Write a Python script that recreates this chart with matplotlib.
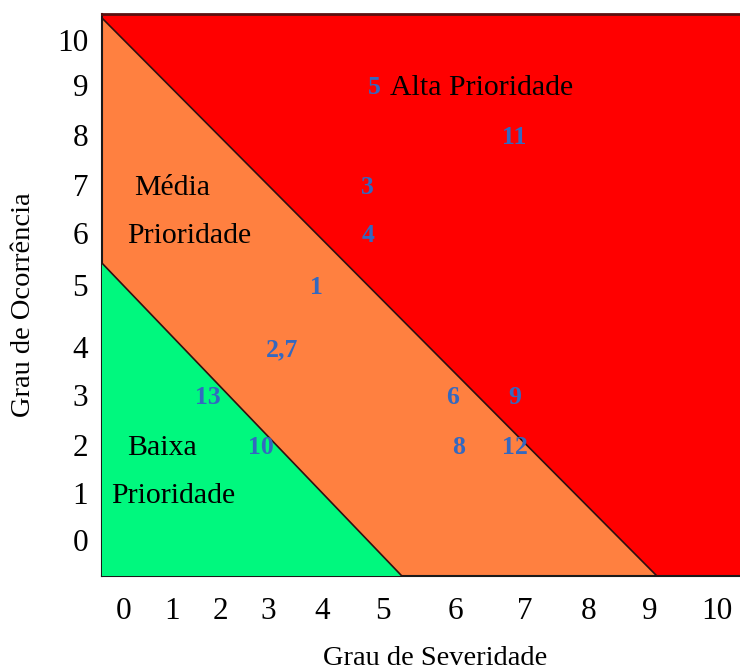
import numpy as np
import matplotlib.pyplot as plt

# priority matrix: severity (x) vs occurrence (y)
grades = list(range(11))
# where each grade label sits on the original (uneven) grid, in pixels
x_grade_px = [123, 172, 220, 268, 322, 383, 455, 525, 588, 650, 717]
y_grade_px = [540, 493, 445, 395, 347, 285, 233, 185, 135, 85, 40]

# failure modes: label, severity, occurrence
mode_labels = ["5", "11", "3", "4", "1", "2,7", "13", "10", "6", "9", "8", "12"]
mode_sev = [4.85, 6.85, 4.75, 4.75, 3.9, 3.25, 1.75, 2.85, 5.97, 6.85, 6.05, 6.85]
mode_occ = [9.0, 8.0, 7.0, 6.0, 5.0, 4.0, 3.0, 2.0, 3.0, 3.0, 2.0, 2.0]

# region boundaries (severity, occurrence) end points
x_lim = (-0.43, 10.34)
y_lim = (-0.77, 10.58)
upper_line = [(-0.43, 10.49), (9.1, -0.77)]
lower_line = [(-0.43, 5.42), (5.26, -0.77)]


def make_scale(px, sign):
    px = np.asarray(px, dtype=float) * sign
    g = np.arange(len(px), dtype=float)

    def fwd(v):
        v = np.asarray(v, dtype=float)
        out = np.interp(v, g, px)
        lo = v < 0
        hi = v > g[-1]
        out = np.where(lo, px[0] + (v - 0) * (px[1] - px[0]), out)
        out = np.where(hi, px[-1] + (v - g[-1]) * (px[-1] - px[-2]), out)
        return out

    def inv(p):
        p = np.asarray(p, dtype=float)
        out = np.interp(p, px, g)
        lo = p < px[0]
        hi = p > px[-1]
        out = np.where(lo, (p - px[0]) / (px[1] - px[0]), out)
        out = np.where(hi, g[-1] + (p - px[-1]) / (px[-1] - px[-2]), out)
        return out

    return fwd, inv


plt.rcParams['font.family'] = ['Liberation Serif', 'DejaVu Serif']

fig = plt.figure(figsize=(7.4, 6.7), dpi=100)
ax = fig.add_axes([102 / 740, 1 - 576 / 670, 1 - 102 / 740, (576 - 14) / 670])
ax.set_xscale('function', functions=make_scale(x_grade_px, 1))
ax.set_yscale('function', functions=make_scale(y_grade_px, -1))
ax.set_xlim(*x_lim)
ax.set_ylim(*y_lim)

x0, x1 = x_lim
y0, y1 = y_lim
# red: whole area, orange below upper line, green below lower line
ax.fill([x0, x1, x1, x0], [y0, y0, y1, y1], color='#ff0000', lw=0, zorder=1)
ax.fill([upper_line[0][0], upper_line[1][0], x0],
        [upper_line[0][1], upper_line[1][1], y0], color='#ff8040', lw=0, zorder=2)
ax.fill([lower_line[0][0], lower_line[1][0], x0],
        [lower_line[0][1], lower_line[1][1], y0], color='#00f87e', lw=0, zorder=3)
for line in (upper_line, lower_line):
    ax.plot([line[0][0], line[1][0]], [line[0][1], line[1][1]],
            color='#301010', lw=1.2, zorder=4)

for lab, sx, oy in zip(mode_labels, mode_sev, mode_occ):
    ax.text(sx, oy, lab, color='#3468c0', fontsize=18.5, fontweight='bold',
            ha='center', va='center_baseline', zorder=5)

kw = dict(fontsize=21.5, va='center_baseline', zorder=5)
ax.text(5.1, 9.0, "Alta Prioridade", ha='left', **kw)
ax.text(1.0, 7.0, "Média", ha='center', **kw)
ax.text(1.35, 6.0, "Prioridade", ha='center', **kw)
ax.text(0.8, 2.0, "Baixa", ha='center', **kw)
ax.text(1.02, 1.0, "Prioridade", ha='center', **kw)

ax.set_xticks(grades)
ax.set_yticks(grades)
ax.set_xticklabels([str(g) for g in grades])
ax.set_yticklabels([str(g) for g in grades])
ax.tick_params(axis='both', length=0, labelsize=22.5)
ax.tick_params(axis='x', pad=15)
ax.tick_params(axis='y', pad=10)

for s in ('left', 'bottom'):
    ax.spines[s].set_color('#1a1a1a')
    ax.spines[s].set_linewidth(1.5)
ax.spines['top'].set_color('#5a1010')
ax.spines['top'].set_linewidth(2)
ax.spines['right'].set_visible(False)

ax.set_xlabel("Grau de Severidade", fontsize=20.5)
ax.set_ylabel("Grau de Ocorrência", fontsize=20.5)
ax.xaxis.set_label_coords(0.522, -0.125)
ax.yaxis.set_label_coords(-0.103, 0.482)

fig.savefig("out.png", dpi=100)
